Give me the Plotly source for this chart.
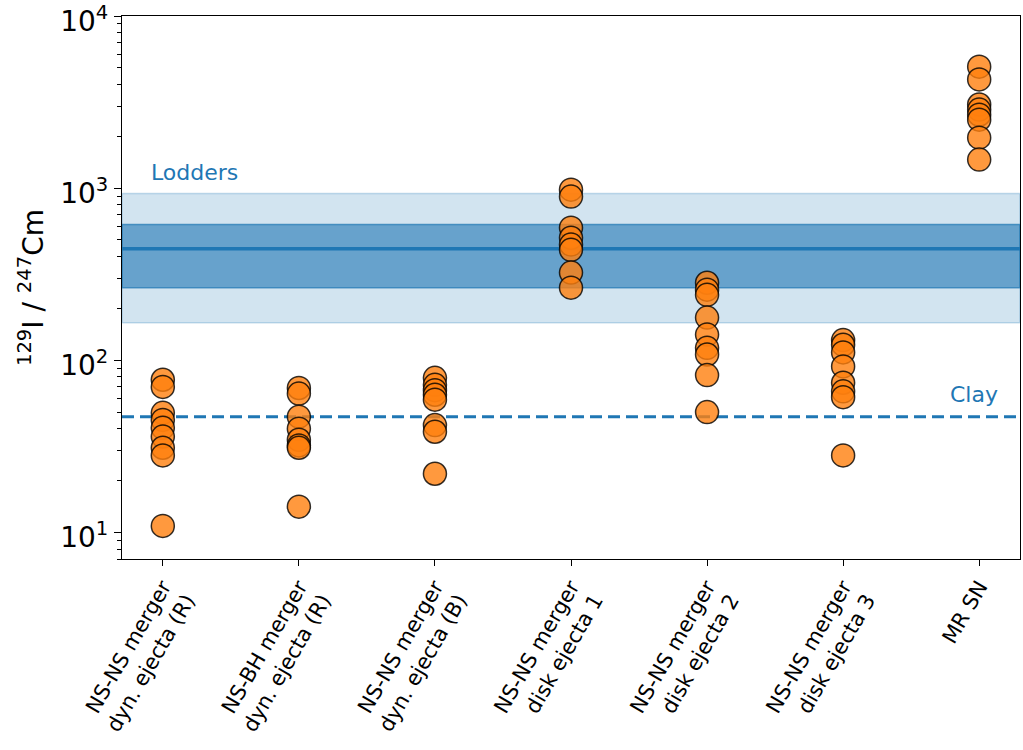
import math
import plotly.graph_objects as go

categories = [
    "NS-NS merger<br>dyn. ejecta (R)",
    "NS-BH merger<br>dyn. ejecta (R)",
    "NS-NS merger<br>dyn. ejecta (B)",
    "NS-NS merger<br>disk ejecta 1",
    "NS-NS merger<br>disk ejecta 2",
    "NS-NS merger<br>disk ejecta 3",
    "MR SN",
]
ratios_nsns_dyn_r = [77, 70, 49.5, 45, 40.5, 36, 31, 28, 10.9]
ratios_nsbh_dyn_r = [69, 64, 47, 40, 34.5, 32, 31, 14.1]
ratios_nsns_dyn_b = [79, 72, 67, 63, 59, 42, 38.4, 21.9]
ratios_disk1 = [979, 893, 589, 515, 470, 438, 323, 264]
ratios_disk2 = [282, 257, 240, 177, 141, 118, 108, 82, 50]
ratios_disk3 = [131, 123, 111, 92, 74, 66, 61, 28]
ratios_mrsn = [5080, 4280, 3060, 2860, 2670, 2500, 1965, 1465]
series = [ratios_nsns_dyn_r, ratios_nsbh_dyn_r, ratios_nsns_dyn_b,
          ratios_disk1, ratios_disk2, ratios_disk3, ratios_mrsn]

lodders_value = 445
lodders_1sigma = [264, 614]
lodders_2sigma = [165, 930]
clay_value = 47

y_ticks = [10, 100, 1000, 10000]
y_ticktext = ["10<sup>1</sup>", "10<sup>2</sup>", "10<sup>3</sup>", "10<sup>4</sup>"]
y_min, y_max = 7, 10000

blue = "#1f77b4"
font = "DejaVu Sans"

fig = go.Figure()

# bands
fig.add_hrect(y0=lodders_2sigma[0], y1=lodders_2sigma[1], fillcolor="rgba(31,119,180,0.2)",
              line=dict(color="rgba(31,119,180,0.25)", width=1.5), layer="below")
fig.add_hrect(y0=lodders_1sigma[0], y1=lodders_1sigma[1], fillcolor="rgba(31,119,180,0.6)",
              line=dict(color="rgba(31,119,180,0.7)", width=1.5), layer="below")
fig.add_hline(y=lodders_value, line=dict(color=blue, width=3.5), layer="below")
fig.add_hline(y=clay_value, line=dict(color=blue, width=3, dash="12px,6px"), layer="below")

for i, vals in enumerate(series):
    fig.add_trace(go.Scatter(
        x=[i] * len(vals), y=vals, mode="markers",
        marker=dict(size=23, color="rgba(255,127,14,0.8)",
                    line=dict(color="rgba(0,0,0,0.8)", width=1.5)),
        showlegend=False, hoverinfo="y"))

fig.add_annotation(x=-0.1, y=math.log10(1230), xref="x", yref="y", text="Lodders",
                   showarrow=False, xanchor="left", yanchor="middle",
                   font=dict(family=font, size=22, color=blue))
fig.add_annotation(x=5.77, y=math.log10(63), xref="x", yref="y", text="Clay",
                   showarrow=False, xanchor="left", yanchor="middle",
                   font=dict(family=font, size=22, color=blue))

minor_vals = [m * 10 ** e for e in range(0, 4) for m in range(2, 10) if y_min <= m * 10 ** e <= y_max]

fig.update_layout(
    width=1023, height=750,
    margin=dict(l=122, r=3, t=16, b=191, autoexpand=False),
    paper_bgcolor="white", plot_bgcolor="white",
    font=dict(family=font, color="black"),
    xaxis=dict(
        range=[-0.3, 6.3], tickmode="array", tickvals=list(range(len(categories))),
        ticktext=categories, tickangle=-60, tickfont=dict(size=21),
        showgrid=False, zeroline=False, showline=True, linecolor="black", linewidth=1.2,
        mirror=True, ticks="outside", ticklen=6, tickcolor="black",
        ticklabeloverflow="allow", automargin=False,
    ),
    yaxis=dict(
        type="log", range=[math.log10(y_min), math.log10(y_max) + 1e-4],
        tickmode="array", tickvals=y_ticks, ticktext=y_ticktext, tickfont=dict(size=28),
        showgrid=False, zeroline=False, showline=True, linecolor="black", linewidth=1.2,
        mirror=True, ticks="outside", ticklen=7, tickcolor="black",
        ticklabeloverflow="allow", automargin=False, ticklabelshift=5,
        minor=dict(tickmode="array", tickvals=minor_vals, ticks="outside", ticklen=4,
                   tickcolor="black", showgrid=False),
        title=dict(text="<sup>129</sup>I / <sup>247</sup>Cm", font=dict(size=28), standoff=8),
    ),
)

fig.write_html("out.html")
